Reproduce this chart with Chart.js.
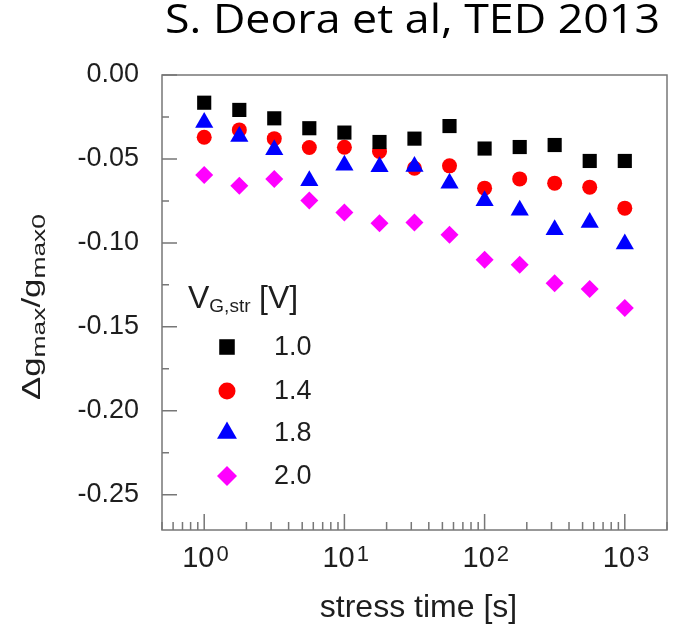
<!DOCTYPE html>
<html>
<head>
<meta charset="utf-8">
<script src="https://cdn.jsdelivr.net/npm/chart.js@4.4.1/dist/chart.umd.min.js"></script>
<style>
  html, body { margin: 0; padding: 0; background: #fff; }
  canvas { display: block; }
</style>
</head>
<body>
<canvas id="chart" width="690" height="626"></canvas>
<script>
// stress time [s], quarter-decade steps
const stressTime = [1, 1.78, 3.16, 5.62, 10, 17.8, 31.6, 56.2, 100, 178, 316, 562, 1000];

// relative change of gmax for each stress voltage
const dg10 = [-0.0165, -0.0208, -0.0258, -0.0317, -0.0343, -0.0399, -0.0379, -0.0304, -0.0438, -0.0429, -0.0417, -0.0512, -0.0512];
const dg14 = [-0.0371, -0.0327, -0.0379, -0.0432, -0.0430, -0.0456, -0.0555, -0.0541, -0.0674, -0.0619, -0.0644, -0.0668, -0.0793];
const dg18 = [-0.0283, -0.0366, -0.0445, -0.0630, -0.0537, -0.0546, -0.0545, -0.0644, -0.0749, -0.0805, -0.0921, -0.0878, -0.1007];
const dg20 = [-0.0595, -0.0660, -0.0619, -0.0748, -0.0819, -0.0883, -0.0879, -0.0952, -0.1100, -0.1130, -0.1240, -0.1275, -0.1388];

const voltageLabels = ["1.0", "1.4", "1.8", "2.0"];
const xDecades = [1, 10, 100, 1000];
const xDecadeExponents = ["0", "1", "2", "3"];

const AXIS_FONT = "'Liberation Sans', Arial, sans-serif";
const TEXT_COLOR = "#1e1e1e";
const FRAME_COLOR = "#777";

function points(values) {
    return stressTime.map((t, i) => ({ x: t, y: values[i] }));
}

function dataset(label, values, color, style, radius, order) {
    return {
        label: label,
        data: points(values),
        pointStyle: style,
        pointRadius: radius,
        pointBackgroundColor: color,
        pointBorderColor: color,
        pointBorderWidth: 0,
        showLine: false,
        order: order
    };
}

// frame plus inward ticks on the left and bottom edges
const framePlugin = {
    id: "frame",
    beforeDatasetsDraw(chart) {
        let ctx = chart.ctx;
        let area = chart.chartArea;
        let xs = chart.scales.x;
        let ys = chart.scales.y;

        ctx.save();
        ctx.strokeStyle = FRAME_COLOR;
        ctx.lineWidth = 1.5;
        ctx.strokeRect(area.left, area.top, area.right - area.left, area.bottom - area.top);

        ctx.beginPath();
        for (let e = -1; e <= 3; e++) {
            for (let m = 1; m <= 9; m++) {
                let v = m * Math.pow(10, e);
                if (v < xs.min || v > xs.max) continue;
                let px = xs.getPixelForValue(v);
                let len = m === 1 ? 16 : 8;
                ctx.moveTo(px, area.bottom);
                ctx.lineTo(px, area.bottom - len);
            }
        }
        for (let k = 0; k * 0.025 <= -ys.min; k++) {
            let py = ys.getPixelForValue(-k * 0.025);
            let len = k % 2 === 0 ? 15 : 7;
            ctx.moveTo(area.left, py);
            ctx.lineTo(area.left + len, py);
        }
        ctx.stroke();
        ctx.restore();
    }
};

function drawPieces(ctx, pieces, x, y) {
    // pieces: [text, font, baseline offset]
    for (let p of pieces) {
        ctx.font = p[1];
        ctx.fillText(p[0], x, y + p[2]);
        x += ctx.measureText(p[0]).width;
    }
    return x;
}

function piecesWidth(ctx, pieces) {
    let w = 0;
    for (let p of pieces) {
        ctx.font = p[1];
        w += ctx.measureText(p[0]).width;
    }
    return w;
}

const labelsPlugin = {
    id: "labels",
    afterDraw(chart) {
        let ctx = chart.ctx;
        let area = chart.chartArea;
        let xs = chart.scales.x;

        ctx.save();
        ctx.fillStyle = TEXT_COLOR;
        ctx.textBaseline = "alphabetic";
        ctx.textAlign = "left";

        // decade labels 10^n
        xDecades.forEach((v, i) => {
            let px = xs.getPixelForValue(v);
            ctx.font = "29px " + AXIS_FONT;
            let baseW = ctx.measureText("10").width;
            let left = px - 22;
            ctx.fillText("10", left, 567);
            ctx.font = "22px " + AXIS_FONT;
            ctx.fillText(xDecadeExponents[i], left + baseW + 2, 561);
        });

        // x axis title
        ctx.font = "32px " + AXIS_FONT;
        ctx.textAlign = "center";
        ctx.fillText("stress time [s]", (area.left + area.right) / 2 + 4, 617);
        ctx.textAlign = "left";

        // y axis title, rotated
        let yPieces = [
            ["\u0394g", "25px " + AXIS_FONT, 0],
            ["max", "19px " + AXIS_FONT, 5],
            ["/g", "25px " + AXIS_FONT, 0],
            ["max0", "19px " + AXIS_FONT, 5]
        ];
        let w = piecesWidth(ctx, yPieces);
        let stretch = 186 / w;
        ctx.save();
        ctx.translate(40, 307);
        ctx.rotate(-Math.PI / 2);
        ctx.scale(stretch, 1);
        drawPieces(ctx, yPieces, -w / 2, 0);
        ctx.restore();

        // legend header
        drawPieces(ctx, [
            ["V", "32px " + AXIS_FONT, 0],
            ["G,str", "19px " + AXIS_FONT, 4]
        ], 188, 308);
        ctx.font = "32px " + AXIS_FONT;
        ctx.fillText("[V]", 259, 308);

        // legend rows, markers taken from the datasets
        let rowY = [347, 391, 433, 476];
        chart.data.datasets.forEach((ds, i) => {
            ctx.fillStyle = ds.pointBackgroundColor;
            ctx.strokeStyle = ds.pointBorderColor;
            Chart.helpers.drawPoint(ctx, {
                pointStyle: ds.pointStyle,
                radius: ds.pointRadius + 1,
                rotation: 0,
                borderWidth: 0
            }, 227, rowY[i]);
            ctx.fillStyle = TEXT_COLOR;
            ctx.font = "27px " + AXIS_FONT;
            ctx.textBaseline = "middle";
            ctx.fillText(voltageLabels[i], 274, rowY[i] + 1);
            ctx.textBaseline = "alphabetic";
        });

        // citation at the top, widened to its slot
        ctx.fillStyle = "#000";
        ctx.font = "40px 'Open Sans', 'Noto Sans', sans-serif";
        let citation = "S. Deora et al, TED 2013";
        let cw = ctx.measureText(citation).width;
        ctx.save();
        ctx.translate(165, 33);
        ctx.scale(495 / cw, 1);
        ctx.fillText(citation, 0, 0);
        ctx.restore();

        ctx.restore();
    }
};

new Chart(document.getElementById("chart"), {
    type: "scatter",
    data: {
        datasets: [
            dataset(voltageLabels[0], dg10, "#000000", "rect", 10, 1),
            dataset(voltageLabels[1], dg14, "#ff0000", "circle", 7.5, 2),
            dataset(voltageLabels[2], dg18, "#0000ff", "triangle", 10.5, 0),
            dataset(voltageLabels[3], dg20, "#ff00ff", "rectRot", 9, 0)
        ]
    },
    options: {
        responsive: false,
        animation: false,
        layout: { padding: { top: 75, right: 23, left: 0, bottom: 0 } },
        plugins: {
            legend: { display: false },
            tooltip: { enabled: false }
        },
        scales: {
            x: {
                type: "logarithmic",
                min: 0.5,
                max: 2000,
                grid: { display: false },
                border: { display: false },
                ticks: { display: false },
                afterFit(scale) { scale.height = 96; }
            },
            y: {
                min: -0.271,
                max: 0,
                grid: { display: false },
                border: { display: false },
                ticks: {
                    stepSize: 0.05,
                    includeBounds: false,
                    padding: 15,
                    color: TEXT_COLOR,
                    font: { family: AXIS_FONT, size: 27 },
                    callback: (v) => v.toFixed(2)
                },
                afterFit(scale) { scale.width = 162; }
            }
        }
    },
    plugins: [framePlugin, labelsPlugin]
});
</script>
</body>
</html>
